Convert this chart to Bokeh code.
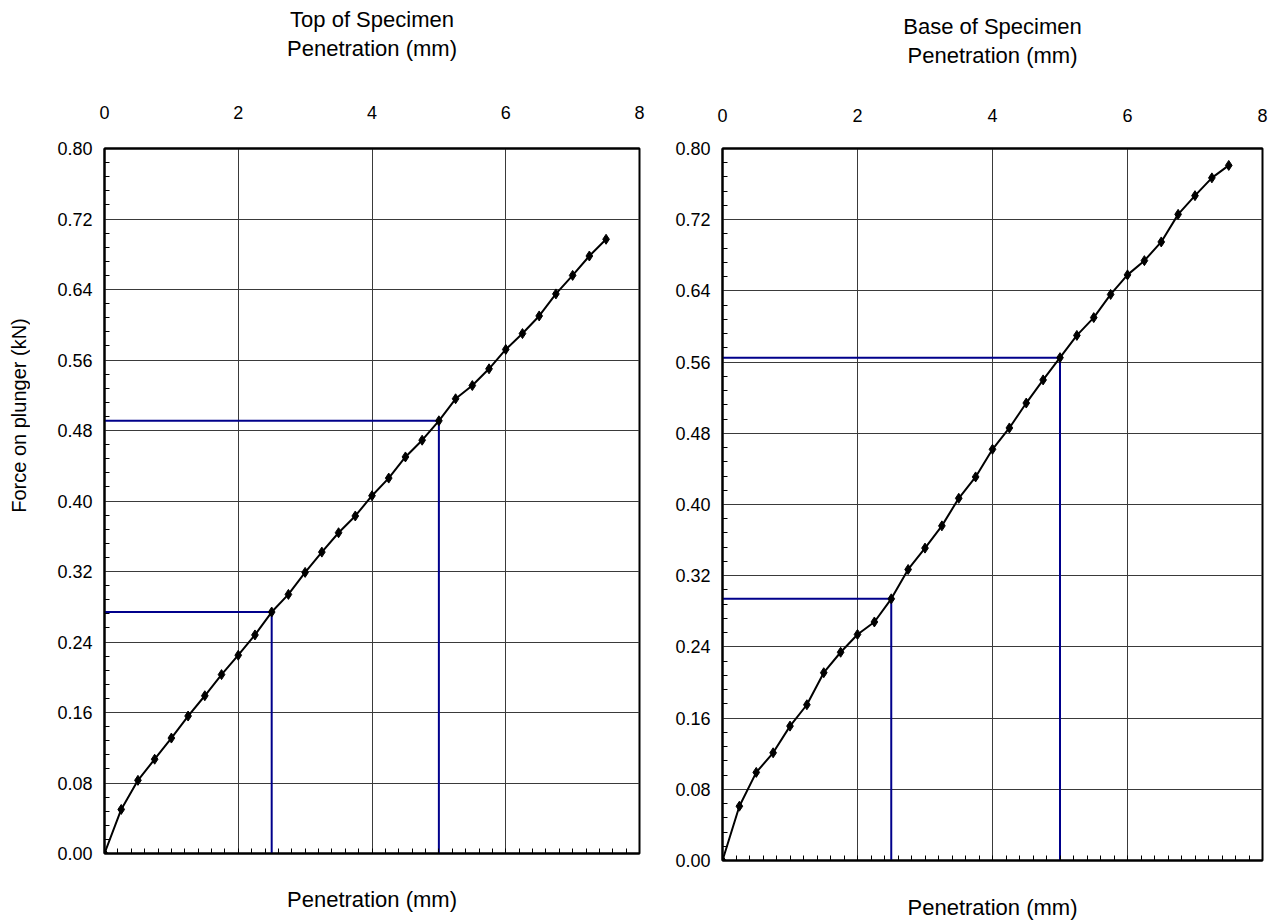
import math
from bokeh.plotting import figure
from bokeh.models import LinearAxis, FixedTicker, NumeralTickFormatter, Range1d
from bokeh.layouts import row
from bokeh.embed import file_html
from bokeh.resources import INLINE
from bokeh.core.properties import value

# ---- data ----
penetration = [0.00, 0.25, 0.50, 0.75, 1.00, 1.25, 1.50, 1.75, 2.00, 2.25, 2.50,
               2.75, 3.00, 3.25, 3.50, 3.75, 4.00, 4.25, 4.50, 4.75, 5.00,
               5.25, 5.50, 5.75, 6.00, 6.25, 6.50, 6.75, 7.00, 7.25, 7.50]
top_force = [0.000, 0.050, 0.083, 0.107, 0.131, 0.156, 0.179, 0.203, 0.225, 0.248, 0.274,
             0.294, 0.319, 0.342, 0.364, 0.383, 0.406, 0.426, 0.450, 0.469, 0.491,
             0.516, 0.531, 0.550, 0.572, 0.590, 0.610, 0.635, 0.656, 0.678, 0.697]
base_force = [0.000, 0.061, 0.099, 0.121, 0.151, 0.175, 0.211, 0.234, 0.254, 0.268, 0.294,
              0.327, 0.351, 0.376, 0.407, 0.431, 0.462, 0.486, 0.514, 0.540, 0.565,
              0.590, 0.610, 0.636, 0.658, 0.674, 0.695, 0.726, 0.747, 0.767, 0.781]
x_ticks = [0, 2, 4, 6, 8]
y_ticks = [0.00, 0.08, 0.16, 0.24, 0.32, 0.40, 0.48, 0.56, 0.64, 0.72, 0.80]
read_points = [2.5, 5.0]
y_title = "Force on plunger (kN)"

FONT = "Liberation Sans"
TITLE_SIZE = "22px"
TICK_SIZE = "18px"
x_minor = [round(i * 0.2, 3) for i in range(1, 40) if i % 10 != 0]
y_minor = [round(i * 0.016, 4) for i in range(1, 50) if i % 5 != 0]


def make_panel(title, force, fw, fh, mb_left, mb_right, mb_top, mb_bottom,
               top_label_standoff, top_title_standoff, bottom_standoff):
    p = figure(frame_width=fw, frame_height=fh,
               x_range=Range1d(0, 8), y_range=Range1d(0, 0.8),
               x_axis_location="above", output_backend="svg", toolbar_location=None,
               min_border_left=mb_left, min_border_right=mb_right,
               min_border_top=mb_top, min_border_bottom=mb_bottom)
    p.background_fill_color = "white"
    p.border_fill_color = "white"
    p.outline_line_color = "black"
    p.outline_line_width = 2

    p.title.text = title
    p.title.align = "center"
    p.title.text_font = FONT
    p.title.text_font_size = TITLE_SIZE
    p.title.text_font_style = "normal"
    p.title.text_color = "black"
    p.title.standoff = 2

    top = p.xaxis[0]
    top.ticker = FixedTicker(ticks=x_ticks, minor_ticks=[])
    top.major_tick_in = 0
    top.major_tick_out = 0
    top.minor_tick_in = 0
    top.minor_tick_out = 0
    top.axis_line_color = "black"
    top.axis_line_width = 2
    top.major_label_standoff = top_label_standoff
    top.major_label_text_font = FONT
    top.major_label_text_font_size = TICK_SIZE
    top.major_label_text_color = "black"
    top.axis_label = "Penetration (mm)"
    top.axis_label_text_font = FONT
    top.axis_label_text_font_size = TITLE_SIZE
    top.axis_label_text_font_style = "normal"
    top.axis_label_text_color = "black"
    top.axis_label_standoff = top_title_standoff

    bottom = LinearAxis(ticker=FixedTicker(ticks=x_ticks, minor_ticks=x_minor),
                        major_label_overrides={t: "" for t in x_ticks})
    bottom.major_tick_in = 5
    bottom.major_tick_out = 0
    bottom.minor_tick_in = 5
    bottom.minor_tick_out = 0
    bottom.axis_line_color = "black"
    bottom.axis_line_width = 2
    bottom.major_label_standoff = 0
    bottom.axis_label = "Penetration (mm)"
    bottom.axis_label_text_font = FONT
    bottom.axis_label_text_font_size = TITLE_SIZE
    bottom.axis_label_text_font_style = "normal"
    bottom.axis_label_text_color = "black"
    bottom.axis_label_standoff = bottom_standoff
    p.add_layout(bottom, "below")

    ya = p.yaxis[0]
    ya.ticker = FixedTicker(ticks=y_ticks, minor_ticks=y_minor)
    ya.formatter = NumeralTickFormatter(format="0.00")
    ya.major_tick_in = 0
    ya.major_tick_out = 0
    ya.minor_tick_in = 5
    ya.minor_tick_out = 0
    ya.axis_line_color = "black"
    ya.axis_line_width = 2
    ya.major_label_standoff = 12
    ya.major_label_text_font = FONT
    ya.major_label_text_font_size = TICK_SIZE
    ya.major_label_text_color = "black"

    p.xgrid.ticker = FixedTicker(ticks=x_ticks, minor_ticks=[])
    p.ygrid.ticker = FixedTicker(ticks=y_ticks, minor_ticks=[])
    for g in (p.xgrid, p.ygrid):
        g.grid_line_color = "#3a3a3a"
        g.grid_line_width = 1

    # reading lines at 2.5 mm and 5.0 mm
    for xr in read_points:
        fr = force[penetration.index(xr)]
        p.line([0, xr, xr], [fr, fr, 0], line_color="#00008b", line_width=2)

    p.line(penetration, force, line_color="black", line_width=2)
    p.scatter(penetration, force, marker="diamond", size=10,
              fill_color="black", line_color="black")
    return p


# narrow strip that carries the vertical axis title of the left panel
lab = figure(frame_width=30, frame_height=705, x_range=Range1d(0, 1), y_range=Range1d(0, 0.8),
             x_axis_location=None, y_axis_location=None, output_backend="svg",
             toolbar_location=None, min_border_left=0, min_border_right=0,
             min_border_top=148, min_border_bottom=0)
lab.outline_line_color = None
lab.xgrid.visible = False
lab.ygrid.visible = False
lab.text(x=[0.6], y=[0.497], text=[y_title], angle=math.pi / 2,
         text_align="center", text_baseline="middle",
         text_font=value(FONT), text_font_size=value("20px"), text_color="black")

left = make_panel("Top of Specimen", top_force,
                  535, 705, 74, 20, 148, 60, 30, 42, 33)
right = make_panel("Base of Specimen", base_force,
                   540, 712, 63, 15, 146, 55, 27, 38, 34)

layout = row(lab, left, right)
open("out.html", "w").write(file_html(layout, INLINE))
